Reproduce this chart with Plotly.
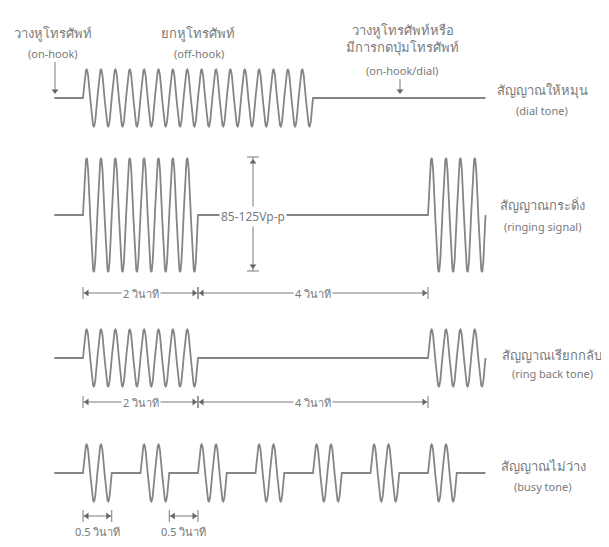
import numpy as np
import plotly.graph_objects as go

# ---------------- data ----------------
SIGNAL_TH = ["สัญญาณให้หมุน", "สัญญาณกระดิ่ง", "สัญญาณเรียกกลับ", "สัญญาณไม่ว่าง"]
SIGNAL_EN = ["(dial tone)", "(ringing signal)", "(ring back tone)", "(busy tone)"]
# on-intervals of each tone, seconds
ON_DIAL = [(0.0, 4.0)]
ON_RING = [(0.0, 2.0), (6.0, 7.0)]
ON_RINGBACK = [(0.0, 2.0), (6.0, 7.0)]
ON_BUSY = [(0.0, 0.5), (1.0, 1.5), (2.0, 2.5), (3.0, 3.5), (4.0, 4.5), (5.0, 5.5), (6.0, 6.5)]
ON_INTERVALS = [ON_DIAL, ON_RING, ON_RINGBACK, ON_BUSY]
REL_AMPLITUDE = [1.0, 2.0, 1.0, 1.0]
DRAW_CYCLES_PER_S = 4          # drawn oscillation density
T_START, T_END = -0.5, 7.0

TOP_LABELS = [("วางหูโทรศัพท์", "(on-hook)"), ("ยกหูโทรศัพท์", "(off-hook)"),
              ("วางหูโทรศัพท์หรือ<br>มีการกดปุ่มโทรศัพท์", "(on-hook/dial)")]
RING_TIMES = [(0.0, 2.0, "2 วินาที"), (2.0, 6.0, "4 วินาที")]
BUSY_TIMES = [(0.0, 0.5, "0.5 วินาที"), (1.5, 2.0, "0.5 วินาที")]
VPP_TEXT = "85-125Vp-p"

# ---------------- layout helpers ----------------
OFF = 8                        # page body margin
W, H = 593, 531                # figure size (page is 609x547)
X0, PXS = 83.0, 57.5           # page pixel of t=0, pixels per second
def t2px(t): return X0 + PXS * t
def px2t(x): return (x - X0) / PXS

BASE_Y = [98, 215, 358, 473]
AMP_PX = 28.5
LINE_COL = "#858585"
TXT_COL = "#7a7a7a"
FONT = "Noto Sans, DejaVu Sans, sans-serif"

fig = go.Figure()

# waveforms
for k, ons in enumerate(ON_INTERVALS):
    tt = [T_START]
    yy = [BASE_Y[k]]
    for (a, b) in ons:
        n = int((b - a) * DRAW_CYCLES_PER_S * 120) + 1
        ts = np.linspace(a, b, n)
        ys = BASE_Y[k] - AMP_PX * REL_AMPLITUDE[k] * np.sin(2 * np.pi * DRAW_CYCLES_PER_S * (ts - a))
        tt += list(ts)
        yy += list(ys)
    tt.append(T_END)
    yy.append(BASE_Y[k])
    fig.add_trace(go.Scatter(x=tt, y=yy, mode="lines",
                             line=dict(color=LINE_COL, width=1.8), hoverinfo="skip"))

annotations = []
def txt(xpx, ypx, s, size=11, bg=None, xanchor="center"):
    d = dict(x=(xpx - OFF) / W, y=1 - (ypx - OFF) / H, xref="paper", yref="paper", text=s,
             showarrow=False, font=dict(size=size, color=TXT_COL, family=FONT),
             xanchor=xanchor, yanchor="middle")
    if bg:
        d["bgcolor"] = bg
    annotations.append(d)

def seg(x1, y1, x2, y2, col=TXT_COL, w=1):
    fig.add_trace(go.Scatter(x=[px2t(x1), px2t(x2)], y=[y1, y2], mode="lines",
                             line=dict(color=col, width=w), hoverinfo="skip"))

def head(xpx, ypx, sym, size=6):
    fig.add_trace(go.Scatter(x=[px2t(xpx)], y=[ypx], mode="markers",
                             marker=dict(symbol=sym, size=size, color="#666666"),
                             hoverinfo="skip"))

# top faint rule
seg(10, 7, 588, 7, col="#e6e6e6", w=1.5)

# right-hand labels
LAB_Y = [(90, 110), (205, 226), (355, 373), (466, 486)]
LAB_X = [542, 542, 552, 543]
for k in range(4):
    txt(LAB_X[k], LAB_Y[k][0], SIGNAL_TH[k], size=13)
    txt(LAB_X[k], LAB_Y[k][1], SIGNAL_EN[k], size=11)

# top labels
txt(53, 33, TOP_LABELS[0][0], size=13)
txt(53, 53, TOP_LABELS[0][1], size=11)
txt(198, 33, TOP_LABELS[1][0], size=13)
txt(199, 53, TOP_LABELS[1][1], size=11)
txt(402, 39, TOP_LABELS[2][0], size=13)
txt(402, 70, TOP_LABELS[2][1], size=11)
seg(55, 62, 55, 90)
head(55, 91, "triangle-down", 6)
seg(400, 79, 400, 90)
head(400, 91, "triangle-down", 6)

# Vp-p dimension
vx = 253
seg(vx, 157, vx, 271)
seg(vx - 6, 157, vx + 6, 157)
seg(vx - 6, 271, vx + 6, 271)
head(vx, 162, "triangle-up", 6)
head(vx, 266, "triangle-down", 6)
txt(vx, 216, VPP_TEXT, size=12, bg="white")

# duration dimensions
def dim(a, b, ylev, label, size=11, tick=6, labely=None):
    x1, x2 = t2px(a), t2px(b)
    seg(x1, ylev - tick, x1, ylev + tick)
    seg(x2, ylev - tick, x2, ylev + tick)
    seg(x1, ylev, x2, ylev)
    head(x1 + 4, ylev, "triangle-left", 6)
    head(x2 - 4, ylev, "triangle-right", 6)
    if labely is None:
        txt((x1 + x2) / 2, ylev, label, size=size, bg="white")
    else:
        txt((x1 + x2) / 2, labely, label, size=size)

for (a, b, lab) in RING_TIMES:
    dim(a, b, 293, lab)
for (a, b, lab) in RING_TIMES:
    dim(a, b, 402, lab)
for (a, b, lab) in BUSY_TIMES:
    dim(a, b, 516, lab, size=11, tick=6, labely=531)

fig.update_layout(
    width=W, height=H, margin=dict(l=0, r=0, t=0, b=0),
    paper_bgcolor="white", plot_bgcolor="white", showlegend=False,
    xaxis=dict(range=[px2t(OFF), px2t(OFF + W)], visible=False, fixedrange=True),
    yaxis=dict(range=[OFF + H, OFF], visible=False, fixedrange=True),
    annotations=annotations,
)
fig.write_html("out.html")
